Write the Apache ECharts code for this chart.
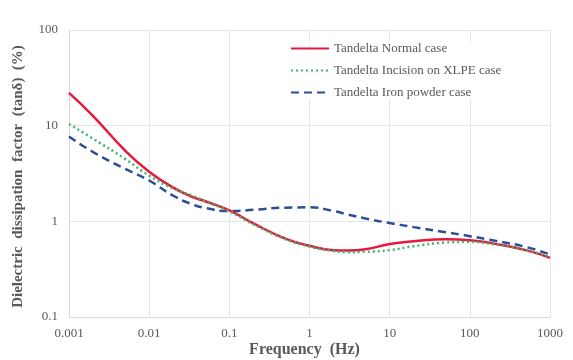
<!DOCTYPE html>
<html>
<head>
<meta charset="utf-8">
<script src="https://cdn.jsdelivr.net/npm/echarts@6/dist/echarts.min.js"></script>
<style>
  html, body { margin: 0; padding: 0; background: #ffffff; }
  #chart { width: 573px; height: 360px; }
</style>
</head>
<body>
<div id="chart"></div>
<script>
// Frequency sweep points (Hz)
const frequencies = [0.001, 0.002, 0.005, 0.01, 0.02, 0.035, 0.05, 0.1, 0.2, 0.5, 1, 2, 3, 5, 10, 20, 50, 100, 200, 500, 1000];

// Dissipation factor tanδ (%) for each case
const normalCase = [22, 12.6, 5.5, 3.3, 2.25, 1.79, 1.62, 1.3, 0.95, 0.66, 0.555, 0.5, 0.495, 0.51, 0.58, 0.62, 0.65, 0.635, 0.585, 0.5, 0.415];
const incisionCase = [10.4, 7.3, 4.5, 3.0, 2.2, 1.85, 1.62, 1.27, 0.93, 0.65, 0.545, 0.49, 0.475, 0.48, 0.5, 0.55, 0.6, 0.61, 0.576, 0.5, 0.425];
const ironPowderCase = [7.7, 5.3, 3.54, 2.67, 1.85, 1.5, 1.38, 1.28, 1.32, 1.39, 1.4, 1.28, 1.18, 1.07, 0.96, 0.87, 0.77, 0.7, 0.63, 0.54, 0.45];

const seriesNames = ['Tandelta Normal case', 'Tandelta Incision on XLPE case', 'Tandelta Iron powder case'];

const xTickLabels = ['0.001', '0.01', '0.1', '1', '10', '100', '1000'];
const yTickLabels = ['0.1', '1', '10', '100'];

function pairs(ys) {
  return frequencies.map((f, i) => [f, ys[i]]);
}

function tickText(list) {
  return function (v) {
    const hit = list.find(t => Math.abs(parseFloat(t) - v) / v < 1e-6);
    return hit !== undefined ? hit : '';
  };
}

const serif = '"Liberation Serif", "DejaVu Serif", serif';
const textGray = '#595959';

const chart = echarts.init(document.getElementById('chart'), null, { renderer: 'canvas' });

chart.setOption({
  animation: false,
  backgroundColor: '#ffffff',
  grid: { left: 69, right: 23, top: 30, bottom: 43, containLabel: false, outerBoundsMode: 'none' },
  legend: {
    data: seriesNames,
    orient: 'vertical',
    left: 290,
    top: 42,
    padding: 0,
    itemWidth: 38,
    itemHeight: 10,
    itemGap: 9,
    itemStyle: { opacity: 0 },
    textStyle: { fontFamily: serif, fontSize: 13, color: textGray },
    backgroundColor: 'rgba(255,255,255,0.9)'
  },
  xAxis: {
    type: 'log',
    logBase: 10,
    min: 0.001,
    max: 1000,
    name: 'Frequency  (Hz)',
    nameLocation: 'middle',
    nameGap: 25,
    nameMoveOverlap: false,
    nameTextStyle: { fontFamily: serif, fontSize: 16, fontWeight: 'bold', color: textGray, padding: [0, 10, 0, 0] },
    axisLine: { show: true, lineStyle: { color: '#d9d9d9', width: 1 } },
    axisTick: { show: false },
    axisLabel: { fontFamily: serif, fontSize: 13, color: textGray, margin: 10, formatter: tickText(xTickLabels) },
    splitLine: { show: true, lineStyle: { color: '#e6e6e6', width: 1 } },
    minorTick: { show: false }
  },
  yAxis: {
    type: 'log',
    logBase: 10,
    min: 0.1,
    max: 100,
    name: 'Dielectric  dissipation  factor  (tanδ)  (%)',
    nameLocation: 'middle',
    nameGap: 43,
    nameMoveOverlap: false,
    nameTextStyle: { fontFamily: serif, fontSize: 15, fontWeight: 'bold', color: textGray, padding: [0, 6, 0, 0] },
    axisLine: { show: true, lineStyle: { color: '#d9d9d9', width: 1 } },
    axisTick: { show: false },
    axisLabel: { fontFamily: serif, fontSize: 13, color: textGray, margin: 11, formatter: tickText(yTickLabels) },
    splitLine: { show: true, lineStyle: { color: '#e6e6e6', width: 1 } }
  },
  series: [
    {
      name: seriesNames[0],
      type: 'line',
      data: pairs(normalCase),
      smooth: 0.5,
      symbol: 'none',
      z: 3,
      lineStyle: { color: '#e8173c', width: 2.5, type: 'solid' },
      itemStyle: { color: '#e8173c' }
    },
    {
      name: seriesNames[1],
      type: 'line',
      data: pairs(incisionCase),
      smooth: 0.5,
      symbol: 'none',
      z: 4,
      lineStyle: { color: '#3fb56a', width: 2.5, type: [2, 3] },
      itemStyle: { color: '#3fb56a' }
    },
    {
      name: seriesNames[2],
      type: 'line',
      data: pairs(ironPowderCase),
      smooth: 0.5,
      symbol: 'none',
      z: 2,
      lineStyle: { color: '#2c4f94', width: 2.5, type: [8, 5] },
      itemStyle: { color: '#2c4f94' }
    }
  ]
});
</script>
</body>
</html>
